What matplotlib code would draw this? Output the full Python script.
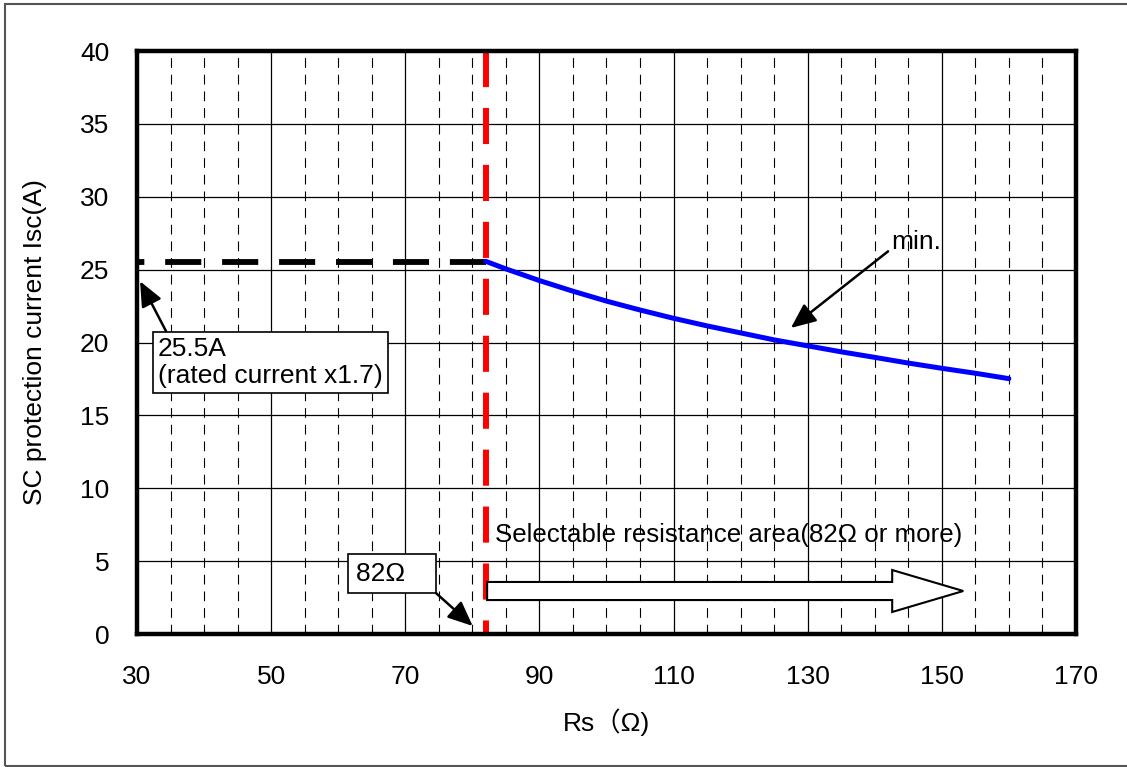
import matplotlib.pyplot as plt
from matplotlib.patches import FancyArrow, Rectangle

plt.rcParams['font.family'] = ['Liberation Sans', 'Noto Sans CJK JP']
plt.rcParams['lines.scale_dashes'] = False

# minimum SC protection current vs. sense resistor
rs = [82, 85, 90, 95, 100, 105, 110, 115, 120, 125, 130, 135, 140, 145, 150, 155, 160]
isc_min = [25.57, 25.05, 24.25, 23.52, 22.84, 22.23, 21.66, 21.14, 20.66, 20.18,
           19.77, 19.36, 18.98, 18.59, 18.23, 17.89, 17.52]

rs_limit = 82
isc_limit = 25.5

x_ticks = [30, 50, 70, 90, 110, 130, 150, 170]
y_ticks = [0, 5, 10, 15, 20, 25, 30, 35, 40]
x_minor = [35, 40, 45, 55, 60, 65, 75, 80, 85, 95, 100, 105, 115, 120, 125,
           135, 140, 145, 155, 160, 165]

fs = 19

fig = plt.figure(figsize=(11.27, 7.67), dpi=100)
ax = fig.add_axes([0.1216, 0.1734, 0.8331, 0.7601])

# grid
for x in x_minor:
    ax.axvline(x, color='black', lw=0.8, dashes=(7, 5), zorder=1)
for x in x_ticks:
    ax.axvline(x, color='black', lw=0.9, zorder=1)
for y in y_ticks:
    ax.axhline(y, color='black', lw=0.9, zorder=1)

# 25.5A level, drawn from the limit back to the left edge
ax.plot([rs_limit, 30], [isc_limit, isc_limit], color='black', lw=4.2,
        dashes=(26, 15), zorder=3)
ax.plot([rs_limit, rs_limit], [40, 0], color='red', lw=4.3,
        dashes=(26, 15), zorder=4)

ax.plot(rs, isc_min, color='blue', lw=3.6, solid_capstyle='round', zorder=5)

ax.set_xlim(30, 170)
ax.set_ylim(0, 40)
ax.set_xticks(x_ticks)
ax.set_yticks(y_ticks)
ax.tick_params(length=0, labelsize=fs)
ax.tick_params(axis='x', pad=22)
ax.tick_params(axis='y', pad=20)
for s in ax.spines.values():
    s.set_linewidth(3.2)
    s.set_zorder(6)

ax.set_xlabel('Rs（Ω)', fontsize=fs, labelpad=14)
ax.set_ylabel('SC protection current Isc(A)', fontsize=fs, labelpad=24)

box = dict(boxstyle='square,pad=0.2', fc='white', ec='black', lw=1.2)
arrow = dict(arrowstyle='-|>,head_length=0.8,head_width=0.35', color='black',
             lw=1.8, shrinkA=0, shrinkB=0)

ax.annotate('min.', xy=(127.5, 21.0), xytext=(142.4, 26.9), fontsize=fs,
            va='center', ha='left', arrowprops=dict(arrow, relpos=(0, 0.2)),
            zorder=7)
ax.annotate('25.5A\n(rated current x1.7)', xy=(30.45, 24.2), xytext=(33.1, 18.63),
            fontsize=fs, va='center', ha='left', linespacing=1.15, bbox=box,
            arrowprops=dict(arrow, relpos=(0.05, 1)), zorder=7)
ax.annotate('82Ω   ', xy=(80.05, 0.55), xytext=(62.7, 4.15), fontsize=fs,
            va='center', ha='left', bbox=dict(box, boxstyle='square,pad=0.3'),
            arrowprops=dict(arrow, relpos=(1, 0)), zorder=7)

ax.text(83.4, 6.8, 'Selectable resistance area(82Ω or more)', fontsize=18.6,
        va='center', ha='left', zorder=7)
ax.add_patch(FancyArrow(82.2, 2.95, 71.0, 0, width=1.24, head_width=2.88,
                        head_length=10.6, length_includes_head=True,
                        fc='white', ec='black', lw=1.5, zorder=7))

fig.add_artist(Rectangle((0.0044, 0.0013), 1.05, 0.9935, transform=fig.transFigure,
                         fill=False, ec='#555555', lw=1.5))

fig.savefig('out.png', dpi=100)
